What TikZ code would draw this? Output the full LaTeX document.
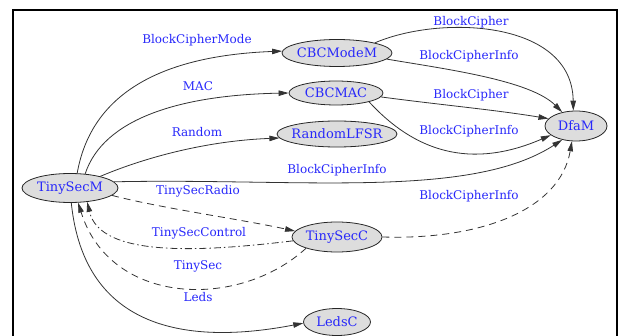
\documentclass[tikz,border=0pt]{standalone}
\usepackage{fontspec}
\setmainfont{DejaVu Serif}
\usetikzlibrary{arrows.meta,shapes.geometric}
\definecolor{lblblue}{RGB}{40,40,250}
\definecolor{nodegray}{RGB}{221,221,221}

\begin{document}
\begin{tikzpicture}[x=1pt,y=-1pt,
    module/.style={ellipse,draw=black!85,fill=nodegray,line width=0.8pt,
        inner xsep=-20pt,inner ysep=-10pt,text=lblblue,
        font=\fontsize{13}{15}\selectfont},
    lbl/.style={text=lblblue,inner sep=0pt,font=\fontsize{12}{14}\selectfont},
    wire/.style={draw=black!80,line width=0.8pt,-{Triangle[length=10pt,width=5.5pt]}},
    dashwire/.style={wire,dash pattern=on 7pt off 5pt},
    dotwire/.style={wire,dash pattern=on 7pt off 3pt on 1.5pt off 3pt}]
    \useasboundingbox (0,0) rectangle (620,336);
    \draw[line width=1.6pt] (13,345) -- (13,10) -- (617,10) -- (617,345);

    \node[module,minimum width=96pt,minimum height=29pt] (tsm) at (70,188) {TinySecM};
    \node[module,minimum width=110pt,minimum height=27pt] (cbcm) at (337,53) {CBCModeM};
    \node[module,minimum width=94pt,minimum height=24pt] (cbcmac) at (336,93) {CBCMAC};
    \node[module,minimum width=120pt,minimum height=26pt] (rlfsr) at (337,134) {RandomLFSR};
    \node[module,minimum width=62pt,minimum height=30pt] (dfam) at (576,126) {DfaM};
    \node[module,minimum width=90pt,minimum height=30pt] (tsc) at (337,237) {TinySecC};
    \node[module,minimum width=67pt,minimum height=27pt] (ledsc) at (337,322) {LedsC};

    % edges out of TinySecM
    \draw[wire] (tsm.64) .. controls +(13,-74) and +(-130,5) .. (cbcm.178)
        node[lbl] (l1) at (197,40) {BlockCipherMode};
    \draw[wire] (tsm.43) .. controls +(18,-55) and +(-109,2) .. (cbcmac.west)
        node[lbl] (l2) at (198,86) {MAC};
    \draw[wire] (tsm.21) .. controls +(40,-17) and +(-77,3) .. (rlfsr.184)
        node[lbl] (l3) at (197,132) {Random};
    \draw[wire] (tsm.8) .. controls +(183,-4) and +(-92,60) .. (dfam.-135)
        node[lbl] (l4) at (337,170) {BlockCipherInfo};
    \draw[dashwire] (tsm.-10) .. controls +(50,13) and +(-55,-12) .. (tsc.172)
        node[lbl] (l5) at (198,191) {TinySecRadio};
    \draw[wire] (tsm.-85) .. controls +(13,128) and +(-114,22) .. (ledsc.182)
        node[lbl] (l8) at (198,297) {Leds};

    % back into TinySecM
    \draw[dotwire] (tsc.185) .. controls +(-92,11) and +(13,56) .. (tsm.-39)
        node[lbl] (l6) at (199,233) {TinySecControl};
    \draw[dashwire] (tsc.200) .. controls +(-68,62) and +(32,103) .. (tsm.-61)
        node[lbl] (l7) at (198,266) {TinySec};

    % into DfaM
    \draw[wire] (cbcm.15) .. controls +(65,-28) and +(-1,-91) .. (dfam.100)
        node[lbl] (l9) at (471,22) {BlockCipher};
    \draw[wire] (cbcm.-7) .. controls +(59,10) and +(-32,-32) .. (dfam.135)
        node[lbl] (l10) at (469,56) {BlockCipherInfo};
    \draw[wire] (cbcmac.-5) .. controls +(60,8) and +(-55,-9) .. (dfam.165)
        node[lbl] (l11) at (471,95) {BlockCipher};
    \draw[wire] (cbcmac.-15) .. controls +(45,49) and +(-81,35) .. (dfam.200)
        node[lbl] (l12) at (469,131) {BlockCipherInfo};
    \draw[dashwire] (tsc.0) .. controls +(98,3) and +(-12,69) .. (dfam.-105)
        node[lbl] (l13) at (469,196) {BlockCipherInfo};
\end{tikzpicture}
\end{document}
